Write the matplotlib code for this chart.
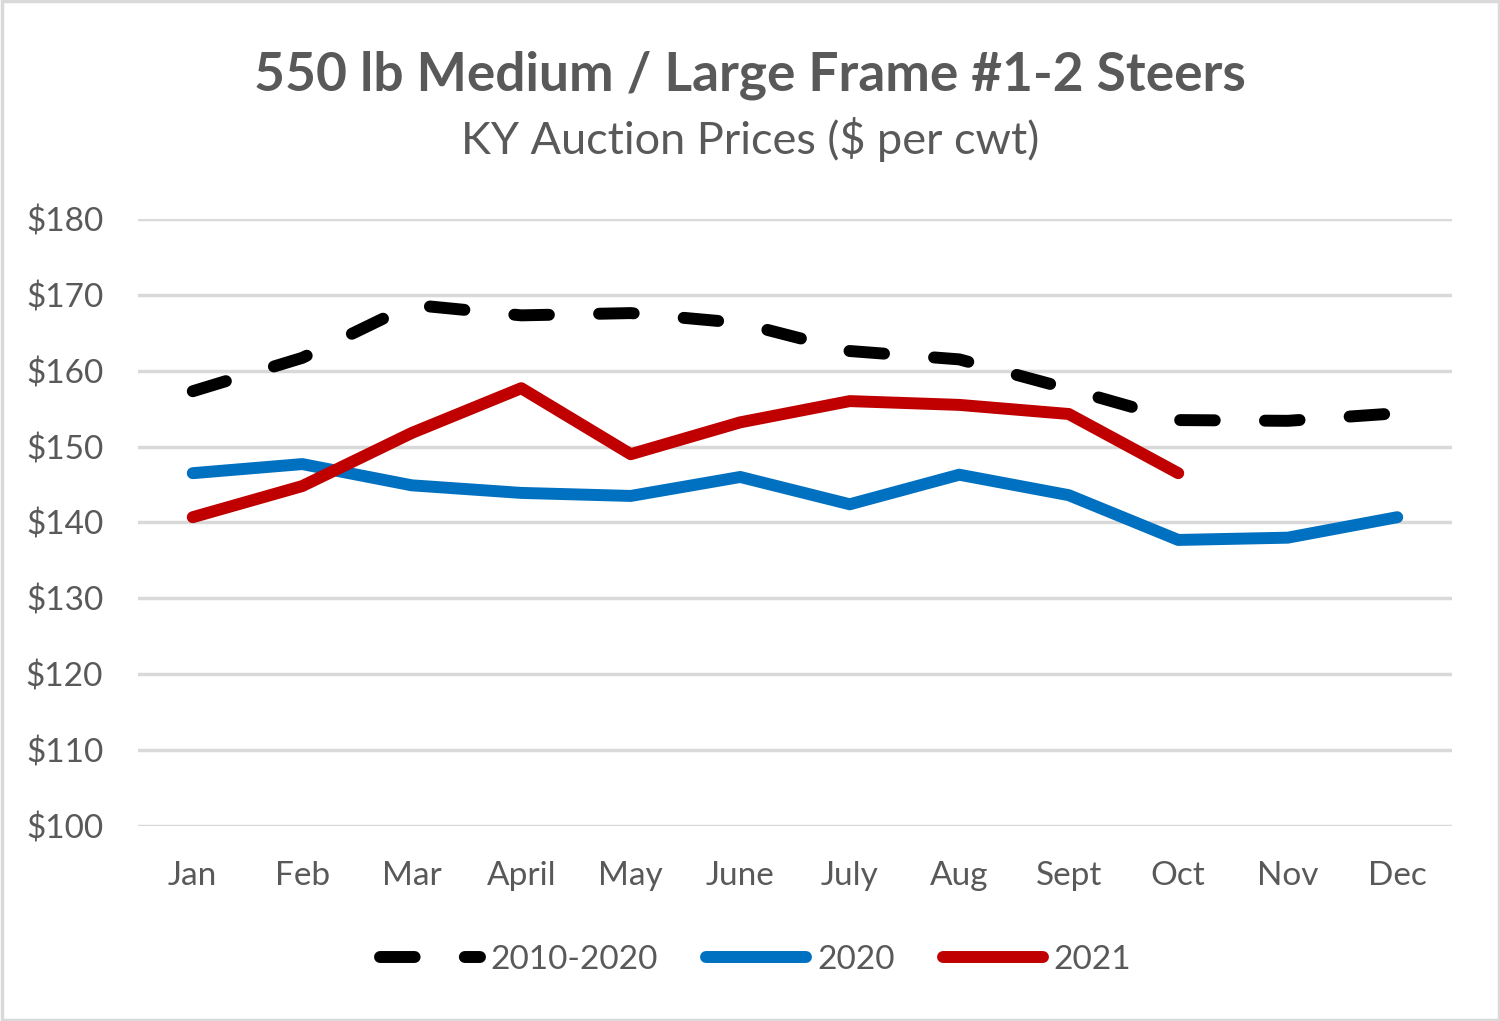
import matplotlib
matplotlib.use("Agg")
import matplotlib.pyplot as plt
from matplotlib.patches import Rectangle

months = ["Jan", "Feb", "Mar", "April", "May", "June", "July", "Aug", "Sept", "Oct", "Nov", "Dec"]
avg_2010_2020 = [157.3, 161.7, 168.7, 167.3, 167.6, 166.3, 162.6, 161.5, 157.6, 153.5, 153.4, 154.4]
y2020 = [146.5, 147.7, 144.9, 143.9, 143.5, 146.0, 142.4, 146.3, 143.6, 137.7, 138.0, 140.7]
y2021 = [140.7, 144.8, 151.8, 157.7, 149.0, 153.2, 156.0, 155.5, 154.3, 146.5]
yticks = [100, 110, 120, 130, 140, 150, 160, 170, 180]
ytick_labels = ["$100", "$110", "$120", "$130", "$140", "$150", "$160", "$170", "$180"]

plt.rcParams['font.family'] = ['Lato', 'DejaVu Sans']
txt = '#595959'

fig = plt.figure(figsize=(15, 10.21), dpi=100)
ax = fig.add_axes([138/1500, 1 - 826/1021, (1452-138)/1500, (826-219)/1021])

lw = 8.6
x = list(range(len(months)))
ax.plot(x, avg_2010_2020, color='black', lw=lw, linestyle=(0, (2.9, 4.2)),
        dash_capstyle='round', solid_capstyle='round', label='2010-2020', zorder=3)
ax.plot(x, y2020, color='#0070C0', lw=lw, solid_capstyle='round', solid_joinstyle='round', label='2020', zorder=3)
ax.plot(list(range(len(y2021))), y2021, color='#C00000', lw=lw, solid_capstyle='round',
        solid_joinstyle='round', label='2021', zorder=4)

ax.set_xlim(-0.5, 11.5)
ax.set_ylim(100, 180)
ax.set_yticks(yticks)
ax.set_yticklabels(ytick_labels)
ax.set_xticks(x)
ax.set_xticklabels(months)
ax.grid(axis='y', color='#d9d9d9', lw=2.5)
ax.set_axisbelow(True)
for s in ax.spines.values():
    s.set_visible(False)
ax.tick_params(axis='both', length=0, labelsize=24, labelcolor=txt)
ax.tick_params(axis='y', pad=25)
ax.tick_params(axis='x', pad=25.5)
for l in ax.lines:
    l.set_clip_on(False)

fig.text(0.5, 1 - 75/1021, "550 lb Medium / Large Frame #1-2 Steers", ha='center', va='center',
         fontsize=38.3, fontweight='bold', color=txt)
fig.text(0.5, 1 - 139/1021, "KY Auction Prices ($ per cwt)", ha='center', va='center',
         fontsize=32.5, color=txt)

leg = fig.legend(loc='center', bbox_to_anchor=(0.5037, 1 - 960/1021), ncol=3, frameon=False,
                 fontsize=24, labelcolor=txt, handlelength=3.0, handletextpad=0.32,
                 columnspacing=1.45)

fig.patches.append(Rectangle((0.001, 0.001), 0.998, 0.998, transform=fig.transFigure,
                             fill=False, edgecolor='#d9d9d9', lw=2.5))
fig.savefig('out.png', dpi=100)
